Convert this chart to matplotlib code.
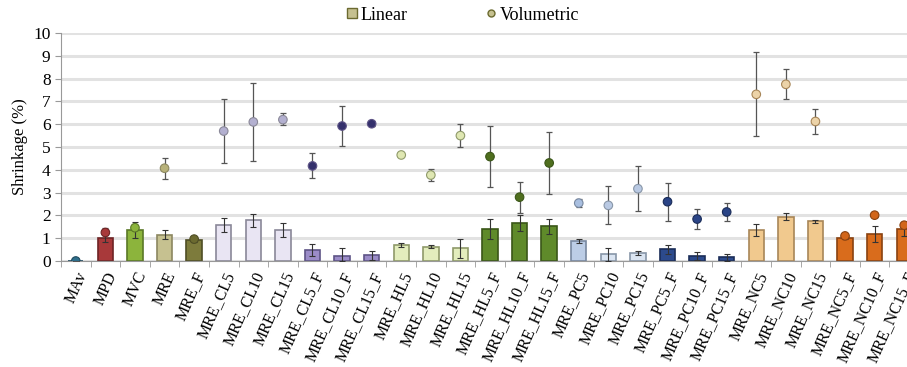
import numpy as np
import matplotlib.pyplot as plt
from matplotlib.lines import Line2D

plt.rcParams['font.family'] = ['Liberation Serif', 'DejaVu Serif']

# Data
samples = ["MAv", "MPD", "MVC", "MRE", "MRE_F",
           "MRE_CL5", "MRE_CL10", "MRE_CL15", "MRE_CL5_F", "MRE_CL10_F", "MRE_CL15_F",
           "MRE_HL5", "MRE_HL10", "MRE_HL15", "MRE_HL5_F", "MRE_HL10_F", "MRE_HL15_F",
           "MRE_PC5", "MRE_PC10", "MRE_PC15", "MRE_PC5_F", "MRE_PC10_F", "MRE_PC15_F",
           "MRE_NC5", "MRE_NC10", "MRE_NC15", "MRE_NC5_F", "MRE_NC10_F", "MRE_NC15_F"]

linear = [0.0, 1.0, 1.35, 1.15, 0.9,
          1.6, 1.78, 1.38, 0.48, 0.22, 0.27,
          0.71, 0.62, 0.57, 1.42, 1.65, 1.52,
          0.88, 0.29, 0.36, 0.51, 0.22, 0.18,
          1.38, 1.95, 1.75, 1.0, 1.2, 1.42]
linear_lo = [0.0, 0.85, 1.0, 0.95, 0.85,
             1.28, 1.5, 1.05, 0.2, 0.0, 0.05,
             0.62, 0.55, 0.15, 0.95, 1.3, 1.2,
             0.8, 0.0, 0.25, 0.3, 0.05, 0.0,
             1.1, 1.8, 1.67, 0.95, 0.85, 1.1]
linear_hi = [0.0, 1.2, 1.7, 1.35, 0.95,
             1.9, 2.05, 1.68, 0.75, 0.55, 0.45,
             0.78, 0.68, 0.95, 1.85, 2.0, 1.83,
             0.95, 0.55, 0.45, 0.72, 0.4, 0.32,
             1.63, 2.1, 1.8, 1.05, 1.55, 1.65]

volumetric = [0.0, 1.25, 1.46, 4.07, 0.96,
              5.7, 6.1, 6.2, 4.17, 5.92, 6.02,
              4.65, 3.77, 5.5, 4.58, 2.8, 4.3,
              2.54, 2.44, 3.17, 2.6, 1.84, 2.15,
              7.31, 7.75, 6.12, 1.1, 2.01, 1.57]
volumetric_lo = [0.0, 1.15, 1.35, 3.6, 0.9,
                 4.3, 4.4, 5.95, 3.65, 5.05, 5.9,
                 4.6, 3.5, 5.0, 3.25, 2.1, 2.95,
                 2.35, 1.62, 2.2, 1.77, 1.4, 1.75,
                 5.5, 7.1, 5.55, 1.05, 1.95, 1.45]
volumetric_hi = [0.0, 1.45, 1.6, 4.5, 1.0,
                 7.1, 7.8, 6.5, 4.75, 6.8, 6.15,
                 4.7, 4.05, 6.0, 5.9, 3.45, 5.65,
                 2.7, 3.27, 4.18, 3.43, 2.3, 2.55,
                 9.15, 8.4, 6.65, 1.15, 2.05, 1.7]

bar_colors = ["#2f6f8c", "#a8393a", "#8cb43c", "#c6c190", "#7d7b3c",
              "#e9e5f3", "#e9e5f3", "#e9e5f3", "#9b8cc8", "#9b8cc8", "#9b8cc8",
              "#e3edbd", "#e3edbd", "#e3edbd", "#5f8a2a", "#5f8a2a", "#5f8a2a",
              "#bccde6", "#dbe5f2", "#dbe5f2", "#2c4a8c", "#2c4a8c", "#2c4a8c",
              "#f1c98e", "#f1c98e", "#f1c98e", "#d96c1c", "#d96c1c", "#d96c1c"]
dot_colors = ["#2f6f8c", "#a8393a", "#8cb43c", "#b8b27a", "#6b6a30",
              "#b3b0d0", "#b3b0d0", "#b3b0d0", "#34306c", "#34306c", "#34306c",
              "#dfe7b2", "#dfe7b2", "#dfe7b2", "#4f6e1e", "#4f6e1e", "#4f6e1e",
              "#a9bfe0", "#b9c9e3", "#b9c9e3", "#2a4486", "#2a4486", "#2a4486",
              "#ecd3a8", "#ecd3a8", "#ecd3a8", "#d2661a", "#d2661a", "#d2661a"]
edge_colors = ["#1f4a5e", "#6e2425", "#5a7826", "#8c8760", "#4f4e25",
               "#8a8898", "#8a8898", "#8a8898", "#5e5486", "#5e5486", "#5e5486",
               "#8f9a6a", "#8f9a6a", "#8f9a6a", "#3a5618", "#3a5618", "#3a5618",
               "#7888a0", "#8896a8", "#8896a8", "#1a2c58", "#1a2c58", "#1a2c58",
               "#a88658", "#a88658", "#a88658", "#8a4210", "#8a4210", "#8a4210"]

x = np.arange(len(samples))
lin = np.array(linear)
vol = np.array(volumetric)

fig = plt.figure(figsize=(9.07, 3.67), dpi=100)
# axes runs a bit past the right edge, like the cropped original
ax = fig.add_axes([61 / 907, 106 / 367, 858 / 907, 228 / 367])

ax.set_axisbelow(True)
ax.yaxis.grid(True, color="#e2e2e2", linewidth=2.2)

ax.bar(x, lin, width=0.52, color=bar_colors, edgecolor=edge_colors, linewidth=1.2, zorder=2)
lin_err = [lin - np.array(linear_lo), np.array(linear_hi) - lin]
lin_err = [np.where(lin > 0, e, 0) for e in lin_err]
ax.errorbar(x, lin, yerr=lin_err, fmt="none", ecolor="#333333",
            elinewidth=0.8, capsize=2, capthick=0.8, zorder=3)

vol_err = [vol - np.array(volumetric_lo), np.array(volumetric_hi) - vol]
ax.errorbar(x, vol, yerr=vol_err, fmt="none", ecolor="#555555",
            elinewidth=0.9, capsize=2, capthick=0.9, zorder=4)
ax.scatter(x, vol, s=38, c=dot_colors, edgecolors=edge_colors, linewidths=0.8, zorder=5)

ax.set_xlim(-0.5, len(samples) - 0.5)
ax.set_ylim(0, 10)
ax.set_yticks(range(0, 11))
ax.set_xticks(x)
ax.set_xticklabels(samples, rotation=66, ha="right", rotation_mode="anchor", fontsize=11.5)
ax.set_xticks(np.arange(-0.5, len(samples), 1), minor=True)
ax.tick_params(axis="x", which="major", length=0, pad=6)
ax.tick_params(axis="x", which="minor", length=4, color="#999999")
ax.tick_params(axis="y", length=4, color="#999999", labelsize=12.5)
ax.set_ylabel("Shrinkage (%)", fontsize=12)

for s in ["top", "right"]:
    ax.spines[s].set_visible(False)
for s in ["left", "bottom"]:
    ax.spines[s].set_color("#999999")

handles = [Line2D([], [], marker="s", linestyle="none", markersize=7,
                  markerfacecolor="#c6c190", markeredgecolor="#6b6a30"),
           Line2D([], [], marker="o", linestyle="none", markersize=5,
                  markerfacecolor="#c6c190", markeredgecolor="#6b6a30")]
fig.legend(handles, ["Linear", "Volumetric"], loc="center", ncol=2,
           bbox_to_anchor=(462 / 907, 1 - 15 / 367), frameon=False,
           fontsize=13, handlelength=0.8, handletextpad=0.1, columnspacing=4.2)

fig.savefig("out.png", dpi=100)
